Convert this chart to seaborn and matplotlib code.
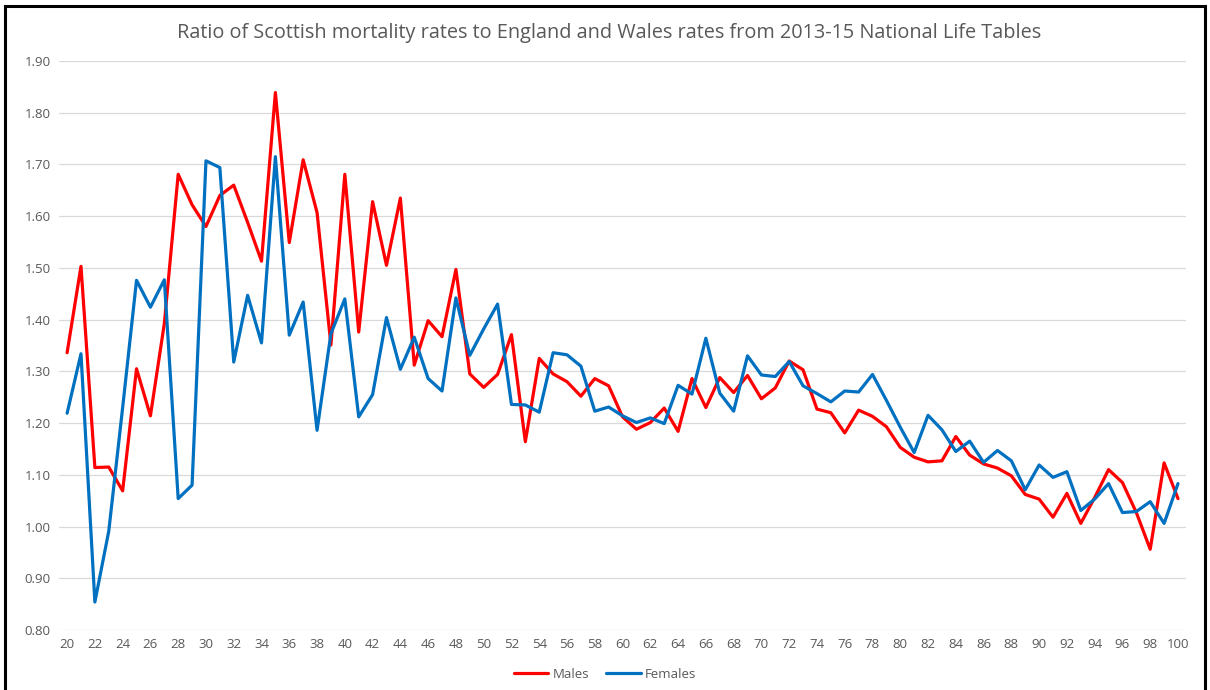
import numpy as np
import pandas as pd
import seaborn as sns
import matplotlib.pyplot as plt
from matplotlib.patches import Rectangle

ages = list(range(20, 101))

males = [1.336, 1.503, 1.114, 1.115, 1.069, 1.305, 1.214, 1.392, 1.681, 1.622,
         1.580, 1.640, 1.660, 1.588, 1.513, 1.839, 1.549, 1.709, 1.607, 1.351,
         1.681, 1.376, 1.628, 1.505, 1.635, 1.312, 1.398, 1.367, 1.497, 1.295,
         1.269, 1.294, 1.371, 1.164, 1.325, 1.295, 1.280, 1.252, 1.286, 1.272,
         1.212, 1.188, 1.201, 1.229, 1.184, 1.286, 1.230, 1.288, 1.259, 1.292,
         1.247, 1.268, 1.320, 1.303, 1.227, 1.220, 1.181, 1.225, 1.213, 1.193,
         1.153, 1.134, 1.125, 1.127, 1.174, 1.138, 1.121, 1.113, 1.098, 1.062,
         1.053, 1.018, 1.064, 1.006, 1.056, 1.110, 1.085, 1.027, 0.956, 1.123,
         1.054]

females = [1.219, 1.334, 0.854, 0.991, 1.230, 1.476, 1.424, 1.477, 1.054, 1.080,
           1.707, 1.694, 1.318, 1.447, 1.355, 1.715, 1.370, 1.434, 1.186, 1.373,
           1.440, 1.212, 1.255, 1.404, 1.304, 1.366, 1.286, 1.262, 1.442, 1.331,
           1.382, 1.430, 1.236, 1.235, 1.221, 1.336, 1.332, 1.310, 1.223, 1.231,
           1.214, 1.201, 1.210, 1.199, 1.273, 1.256, 1.364, 1.258, 1.223, 1.330,
           1.293, 1.290, 1.319, 1.272, 1.257, 1.241, 1.262, 1.260, 1.294, 1.244,
           1.192, 1.143, 1.215, 1.187, 1.145, 1.165, 1.124, 1.147, 1.127, 1.071,
           1.119, 1.095, 1.106, 1.031, 1.053, 1.083, 1.027, 1.029, 1.048, 1.006,
           1.083]

series_names = ["Males", "Females"]
colors = ["#FF0000", "#0070C0"]

df = pd.DataFrame({
    "Age": ages * 2,
    "Ratio": males + females,
    "Sex": ["Males"] * len(ages) + ["Females"] * len(ages),
})

sns.set_style("white")
plt.rcParams["font.family"] = ["Open Sans", "DejaVu Sans"]

fig = plt.figure(figsize=(12.1, 6.9), dpi=100)
ax = fig.add_axes([0.0488, 0.087, 0.9314, 0.8246])

sns.lineplot(data=df, x="Age", y="Ratio", hue="Sex", hue_order=series_names,
             palette=colors, linewidth=2.3, ax=ax, legend=False)

grey = "#595959"
ax.set_xlim(19.42, 100.58)
ax.set_ylim(0.80, 1.90)
ax.set_xticks(range(20, 101, 2))
ax.set_yticks(np.arange(0.8, 1.91, 0.1))
ax.set_yticklabels([f"{v:.2f}" for v in np.arange(0.8, 1.91, 0.1)])
ax.tick_params(colors=grey, labelsize=9.5, length=0, pad=6)
ax.grid(axis="y", color="#d9d9d9", linewidth=0.9)
ax.set_axisbelow(True)
for s in ax.spines.values():
    s.set_visible(False)
ax.set_xlabel("")
ax.set_ylabel("")

fig.text(0.503, 0.952, "Ratio of Scottish mortality rates to England and Wales rates from 2013-15 National Life Tables",
         ha="center", va="center", fontsize=14.3, color=grey)

handles = [plt.Line2D([], [], color=c, linewidth=2.3) for c in colors]
fig.legend(handles, series_names, loc="center", bbox_to_anchor=(0.5, 0.023), ncol=2,
           frameon=False, fontsize=9.5, labelcolor=grey, handlelength=2.6,
           handletextpad=0.3, columnspacing=1.3)

fig.patches.append(Rectangle((0.004, -0.02), 0.992, 1.011, transform=fig.transFigure,
                             fill=False, edgecolor="black", linewidth=2.2))

plt.savefig("out.png", dpi=100)
